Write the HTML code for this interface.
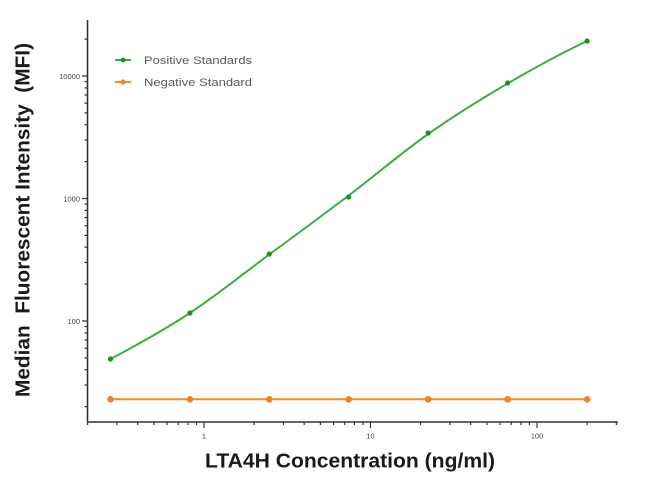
<!DOCTYPE html>
<html>
<head>
<meta charset="utf-8">
<style>
html,body{margin:0;padding:0;background:#fff;}
svg{display:block;}
text{font-family:"Liberation Sans",Arial,sans-serif;}
</style>
</head>
<body>
<svg width="650" height="485" viewBox="0 0 650 485" xmlns="http://www.w3.org/2000/svg">
<rect width="650" height="485" fill="#fff"/>
<!-- axes -->
<g stroke="#333" stroke-width="1.6" fill="none">
<line x1="87.5" y1="20" x2="87.5" y2="422"/>
<line x1="87" y1="422" x2="618" y2="422"/>
</g>
<!-- y ticks -->
<g stroke="#333" stroke-width="1.2">
<line x1="82" y1="321" x2="87.5" y2="321"/>
<line x1="82" y1="198.5" x2="87.5" y2="198.5"/>
<line x1="82" y1="76" x2="87.5" y2="76"/>
<line x1="84.5" y1="406.6" x2="87.5" y2="406.6"/>
<line x1="84.5" y1="385" x2="87.5" y2="385"/>
<line x1="84.5" y1="369.7" x2="87.5" y2="369.7"/>
<line x1="84.5" y1="357.9" x2="87.5" y2="357.9"/>
<line x1="84.5" y1="348.2" x2="87.5" y2="348.2"/>
<line x1="84.5" y1="340" x2="87.5" y2="340"/>
<line x1="84.5" y1="332.9" x2="87.5" y2="332.9"/>
<line x1="84.5" y1="326.6" x2="87.5" y2="326.6"/>
<line x1="84.5" y1="284.1" x2="87.5" y2="284.1"/>
<line x1="84.5" y1="262.5" x2="87.5" y2="262.5"/>
<line x1="84.5" y1="247.2" x2="87.5" y2="247.2"/>
<line x1="84.5" y1="235.4" x2="87.5" y2="235.4"/>
<line x1="84.5" y1="225.7" x2="87.5" y2="225.7"/>
<line x1="84.5" y1="217.5" x2="87.5" y2="217.5"/>
<line x1="84.5" y1="210.4" x2="87.5" y2="210.4"/>
<line x1="84.5" y1="204.1" x2="87.5" y2="204.1"/>
<line x1="84.5" y1="161.6" x2="87.5" y2="161.6"/>
<line x1="84.5" y1="140" x2="87.5" y2="140"/>
<line x1="84.5" y1="124.7" x2="87.5" y2="124.7"/>
<line x1="84.5" y1="112.9" x2="87.5" y2="112.9"/>
<line x1="84.5" y1="103.2" x2="87.5" y2="103.2"/>
<line x1="84.5" y1="95" x2="87.5" y2="95"/>
<line x1="84.5" y1="87.9" x2="87.5" y2="87.9"/>
<line x1="84.5" y1="81.6" x2="87.5" y2="81.6"/>
<line x1="84.5" y1="39.1" x2="87.5" y2="39.1"/>
</g>
<!-- x ticks -->
<g stroke="#333" stroke-width="1.2">
<line x1="204" y1="422" x2="204" y2="428"/>
<line x1="370.5" y1="422" x2="370.5" y2="428"/>
<line x1="537" y1="422" x2="537" y2="428"/>
<line x1="87.6" y1="422" x2="87.6" y2="425"/>
<line x1="116.9" y1="422" x2="116.9" y2="425"/>
<line x1="137.7" y1="422" x2="137.7" y2="425"/>
<line x1="153.9" y1="422" x2="153.9" y2="425"/>
<line x1="167.1" y1="422" x2="167.1" y2="425"/>
<line x1="178.2" y1="422" x2="178.2" y2="425"/>
<line x1="187.9" y1="422" x2="187.9" y2="425"/>
<line x1="196.4" y1="422" x2="196.4" y2="425"/>
<line x1="254.1" y1="422" x2="254.1" y2="425"/>
<line x1="283.4" y1="422" x2="283.4" y2="425"/>
<line x1="304.2" y1="422" x2="304.2" y2="425"/>
<line x1="320.4" y1="422" x2="320.4" y2="425"/>
<line x1="333.6" y1="422" x2="333.6" y2="425"/>
<line x1="344.7" y1="422" x2="344.7" y2="425"/>
<line x1="354.4" y1="422" x2="354.4" y2="425"/>
<line x1="362.9" y1="422" x2="362.9" y2="425"/>
<line x1="420.6" y1="422" x2="420.6" y2="425"/>
<line x1="449.9" y1="422" x2="449.9" y2="425"/>
<line x1="470.7" y1="422" x2="470.7" y2="425"/>
<line x1="486.9" y1="422" x2="486.9" y2="425"/>
<line x1="500.1" y1="422" x2="500.1" y2="425"/>
<line x1="511.2" y1="422" x2="511.2" y2="425"/>
<line x1="520.9" y1="422" x2="520.9" y2="425"/>
<line x1="529.4" y1="422" x2="529.4" y2="425"/>
<line x1="587.1" y1="422" x2="587.1" y2="425"/>
<line x1="616.4" y1="422" x2="616.4" y2="425"/>
</g>
<!-- tick labels -->
<g font-size="7.5" fill="#444">
<text x="80" y="79" text-anchor="end">10000</text>
<text x="80" y="201.5" text-anchor="end">1000</text>
<text x="80" y="324" text-anchor="end">100</text>
<text x="204" y="438.5" text-anchor="middle">1</text>
<text x="370.5" y="438.5" text-anchor="middle">10</text>
<text x="537" y="438.5" text-anchor="middle">100</text>
</g>
<!-- negative standard -->
<g>
<line x1="110.5" y1="399.3" x2="587.1" y2="399.3" stroke="#f28a2e" stroke-width="2"/>
<g fill="#ee8228">
<circle cx="110.5" cy="399.3" r="3.3"/>
<circle cx="189.9" cy="399.3" r="3.3"/>
<circle cx="269.3" cy="399.3" r="3.3"/>
<circle cx="348.7" cy="399.3" r="3.3"/>
<circle cx="428.2" cy="399.3" r="3.3"/>
<circle cx="507.6" cy="399.3" r="3.3"/>
<circle cx="587.1" cy="399.3" r="3.3"/>
</g>
</g>
<!-- positive standards -->
<path d="M110.5,359 C136.97,345 163.43,330.42 189.9,313 C216.37,295.58 242.83,274.08 269.3,254.5 C295.77,234.92 322.23,215.58 348.7,195.5 C375.17,175.42 401.73,152.67 428.2,134 C454.67,115.33 481.13,99 507.6,83.5 C534.07,68 560.63,53.67 587.1,41" fill="none" stroke="#3aaf3a" stroke-width="2"/>
<g fill="#1f8f24">
<circle cx="110.5" cy="359" r="2.6"/>
<circle cx="189.9" cy="313" r="2.6"/>
<circle cx="269.3" cy="254" r="2.6"/>
<circle cx="348.7" cy="197" r="2.6"/>
<circle cx="428.2" cy="133" r="2.6"/>
<circle cx="507.6" cy="83" r="2.6"/>
<circle cx="587.1" cy="41" r="2.6"/>
</g>
<!-- legend -->
<line x1="115" y1="60" x2="131" y2="60" stroke="#3aaf3a" stroke-width="2"/>
<circle cx="123" cy="60" r="2.4" fill="#1f8f24"/>
<line x1="115" y1="82" x2="131" y2="82" stroke="#f28a2e" stroke-width="2"/>
<circle cx="123" cy="82" r="2.6" fill="#ee8228"/>
<g font-size="11" fill="#5a5a5a">
<text x="144" y="64" textLength="108" lengthAdjust="spacingAndGlyphs">Positive Standards</text>
<text x="144" y="86" textLength="108" lengthAdjust="spacingAndGlyphs">Negative Standard</text>
</g>
<!-- axis titles -->
<text x="350" y="467.5" text-anchor="middle" font-size="20.5" font-weight="bold" fill="#1a1a1a" textLength="290" lengthAdjust="spacingAndGlyphs">LTA4H Concentration (ng/ml)</text>
<text transform="translate(29.5,220) rotate(-90)" x="0" y="0" text-anchor="middle" font-size="20.5" font-weight="bold" fill="#1a1a1a" textLength="354" lengthAdjust="spacingAndGlyphs" xml:space="preserve">Median  Fluorescent Intensity  (MFI)</text>
</svg>
</body>
</html>
